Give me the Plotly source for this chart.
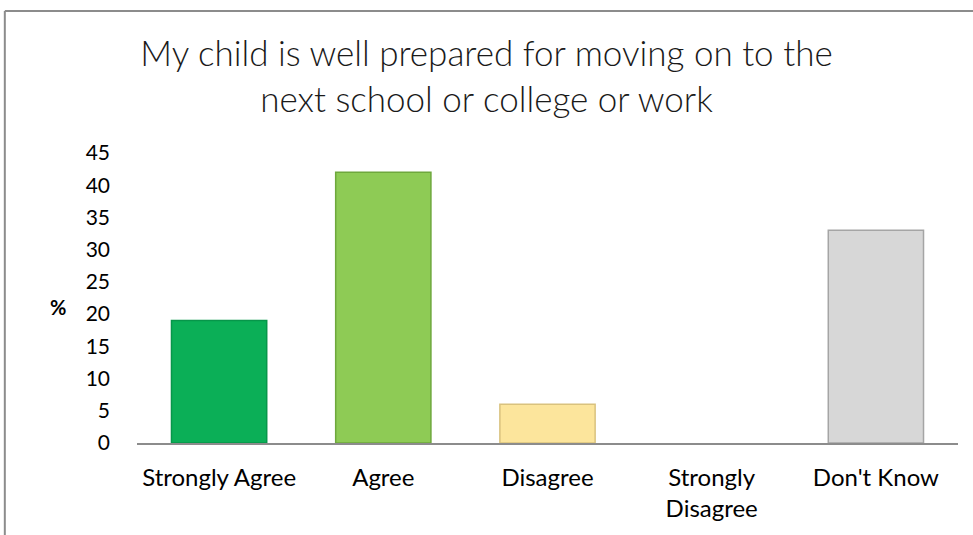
import plotly.graph_objs as go

# data
categories = ['Strongly Agree', 'Agree', 'Disagree', 'Strongly<br>Disagree', "Don't Know"]
percent = [19, 42, 6, 0, 33]
bar_colors = ['#0BAF57', '#8ECB55', '#FCE59C', '#D0D0D0', '#D7D7D7']
edge_colors = ['#07964A', '#6EA83C', '#D9C27E', '#A5A5A5', '#A5A5A5']
edge_widths = [1.5, 1.5, 1.5, 0, 1.5]
y_ticks = [0, 5, 10, 15, 20, 25, 30, 35, 40, 45]

trace = go.Bar(
    x=categories,
    y=percent,
    width=0.58,
    marker=dict(color=bar_colors, line=dict(color=edge_colors, width=edge_widths)),
    showlegend=False)

layout = go.Layout(
    width=973, height=535,
    margin=dict(l=137, r=15, t=153, b=92),
    paper_bgcolor='white', plot_bgcolor='white',
    title=dict(text='My child is well prepared for moving on to the<br>next school or college or work',
               x=0.5, xanchor='center', y=0.876, yanchor='middle',
               font=dict(family='Lato', size=35, color='#1a1a1a', weight=300)),
    xaxis=dict(showline=True, linecolor='#8C8C8C', linewidth=2,
               showgrid=False, ticks='', ticklabelstandoff=12,
               tickfont=dict(family='Lato', size=24, color='black')),
    yaxis=dict(range=[0, 45], tickvals=y_ticks, showgrid=False,
               zeroline=False, showline=False, ticks='',
               ticklabelstandoff=26,
               tickfont=dict(family='Lato', size=21, color='black')),
    annotations=[dict(text='<b>%</b>', xref='paper', yref='paper',
                      x=-0.108, y=0.47, showarrow=False,
                      font=dict(family='Lato', size=20, color='black'))],
    shapes=[
        dict(type='line', xref='paper', yref='paper', x0=-0.161, x1=1.02,
             y0=1.49, y1=1.49, line=dict(color='#8C8C8C', width=2)),
        dict(type='line', xref='paper', yref='paper', x0=-0.161, x1=-0.161,
             y0=1.49, y1=-0.32, line=dict(color='#8C8C8C', width=2)),
    ])

fig = go.Figure(data=[trace], layout=layout)
# drop the default page margin so the figure sits at the window corner
fig.write_html('out.html', config={'displayModeBar': False},
               post_script="document.body.style.margin='0';")
